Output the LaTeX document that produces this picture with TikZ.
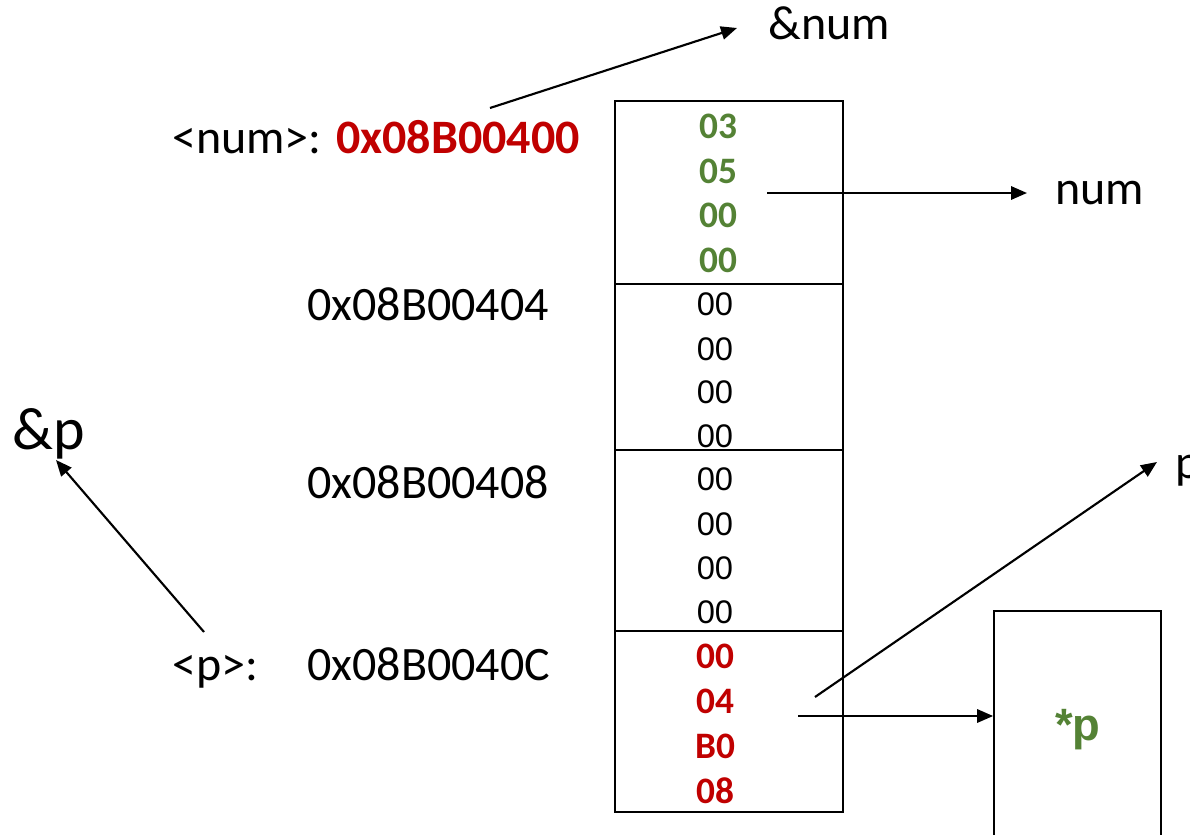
\documentclass[tikz,border=0pt]{standalone}
\usepackage{fontspec}
\setmainfont{Carlito}
\newfontfamily\arialf{Liberation Sans}
\usetikzlibrary{arrows.meta}
\definecolor{cgreen}{HTML}{548235}
\definecolor{cred}{HTML}{C00000}
\begin{document}
\begin{tikzpicture}[x=0.75pt,y=-0.75pt,
  lbl/.style={inner sep=0pt,anchor=base west,font=\fontsize{36}{40}\selectfont},
  cellg/.style={inner sep=0pt,anchor=base,text=cgreen,font=\fontsize{28}{30}\selectfont\bfseries},
  cellr/.style={inner sep=0pt,anchor=base,text=cred,font=\fontsize{28}{30}\selectfont\bfseries},
  cellk/.style={inner sep=0pt,anchor=base,font=\arialf\fontsize{24.5}{28}\selectfont},
  word/.style={draw,line width=1.3pt,minimum width=171pt,inner sep=0pt},
  arr/.style={line width=1.6pt,-{Triangle[length=12pt,width=10pt]}}]
\useasboundingbox (0,0) rectangle (1190,835);
% memory words
\node[word,minimum height=137.25pt] (w0) at (729,192.5) {};
\node[word,minimum height=124.5pt] (w1) at (729,367) {};
\node[word,minimum height=135.75pt] (w2) at (729,540.5) {};
\node[word,minimum height=135.75pt] (w3) at (729,721.5) {};
% cell contents
\node[cellg] (c00) at (718,138) {03};
\node[cellg] (c01) at (718,183) {05};
\node[cellg] (c02) at (718,227) {00};
\node[cellg] (c03) at (718,272) {00};
\node[cellk] (c10) at (715,315) {00};
\node[cellk] (c11) at (715,360) {00};
\node[cellk] (c12) at (715,403) {00};
\node[cellk] (c13) at (715,447) {00};
\node[cellk] (c20) at (715,490) {00};
\node[cellk] (c21) at (715,535) {00};
\node[cellk] (c22) at (715,579) {00};
\node[cellk] (c23) at (715,623) {00};
\node[cellr] (c30) at (715,668) {00};
\node[cellr] (c31) at (715,713) {04};
\node[cellr] (c32) at (715,758) {B0};
\node[cellr] (c33) at (715,803) {08};
% address labels
\node[lbl] (numaddr) at (172,153) {<num>: \textcolor{cred}{\bfseries 0x08B00400}};
\node[lbl] (a404) at (307,320) {0x08B00404};
\node[lbl] (a408) at (307,498) {0x08B00408};
\node[lbl] (plbl) at (172,680) {<p>:};
\node[lbl] (a40c) at (307,680) {0x08B0040C};
% names
\node[lbl] (refnum) at (768,40) {\&num};
\node[lbl] (numname) at (1055,204) {num};
\node[lbl,font=\fontsize{45}{50}\selectfont] (refp) at (12,449) {\&p};
\node[lbl] (pname) at (1175,478) {p};
% pointee box
\node[draw,line width=1.3pt,minimum width=125.25pt,minimum height=216.75pt,inner sep=0pt] (pbox) at (1077.5,755.5) {};
\node[inner sep=0pt,anchor=base,text=cgreen,font=\arialf\fontsize{34}{38}\selectfont\bfseries] (pstar) at (1078,740) {*p};
% arrow endpoints
\coordinate (s1) at (490,108);
\coordinate (e1) at (737,28);
\coordinate (s2) at (767,193);
\coordinate (e2) at (1027,193);
\coordinate (s3) at (204,632);
\coordinate (e3) at (56,460);
\coordinate (s4) at (815,697);
\coordinate (e4) at (1157,462);
\coordinate (s5) at (798,716);
% arrows
\draw[arr] (s1) -- (e1);
\draw[arr] (s2) -- (e2);
\draw[arr] (s3) -- (e3);
\draw[arr] (s4) -- (e4);
\draw[arr] (s5) -- (s5 -| pbox.west);
\end{tikzpicture}
\end{document}
